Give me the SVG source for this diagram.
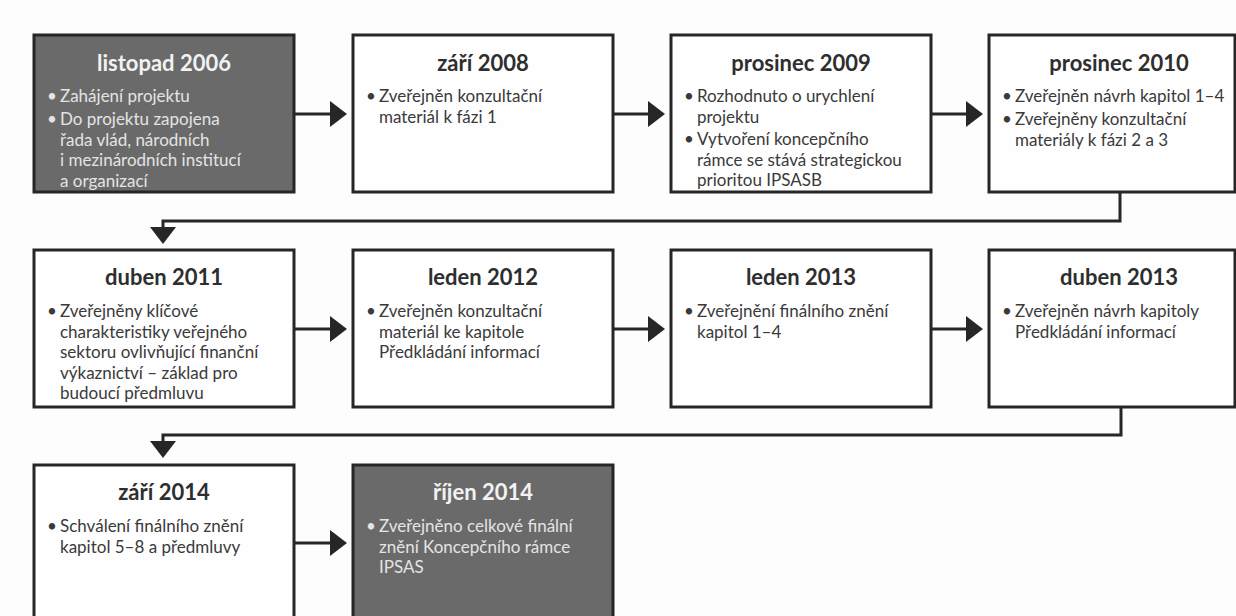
<svg xmlns="http://www.w3.org/2000/svg" width="1236" height="616" viewBox="0 0 1236 616">
  <style>
    .box { fill: #fefefe; stroke: #262626; stroke-width: 3; }
    .box.dark { fill: #6a6a6a; }
    .title { font-family: Lato, "Open Sans", sans-serif; font-weight: bold; font-size: 22px; fill: #2e2e2e; text-anchor: middle; }
    .body { font-family: Lato, "Open Sans", sans-serif; font-size: 17px; fill: #3a3a3a; }
    .dark-node .title { fill: #f2f2f2; }
    .dark-node .body { fill: #e4e4e4; }
    .conn { fill: none; stroke: #262626; stroke-width: 3; marker-end: url(#head); }
  </style>
  <defs>
    <marker id="head" markerUnits="userSpaceOnUse" viewBox="0 0 17 26" refX="0" refY="13" markerWidth="17" markerHeight="26" orient="auto">
      <path d="M0,0 L17,13 L0,26 Z" fill="#262626"/>
    </marker>
  </defs>
  <rect width="1236" height="616" fill="#fdfdfd"/>

  <!-- connectors -->
  <g id="connectors">
    <path class="conn" d="M295,114 H330"/>
    <path class="conn" d="M613,114 H648"/>
    <path class="conn" d="M931,114 H966"/>
    <path class="conn" d="M1120,193 V221 H163 V227"/>
    <path class="conn" d="M295,329 H330"/>
    <path class="conn" d="M613,329 H648"/>
    <path class="conn" d="M931,329 H966"/>
    <path class="conn" d="M1121,408 V435 H163 V441"/>
    <path class="conn" d="M295,543 H330"/>
  </g>

  <!-- row 1 -->
  <g id="n-2006-11" class="dark-node">
    <rect class="box dark" x="34" y="35" width="260" height="157"/>
    <text class="title" x="164" y="71">listopad 2006</text>
    <text class="body"><tspan x="47" y="102">•</tspan><tspan x="60" y="102">Zahájení projektu</tspan></text>
    <text class="body"><tspan x="47" y="125">•</tspan><tspan x="60" y="125">Do projektu zapojena</tspan><tspan x="60" y="145.5">řada vlád, národních</tspan><tspan x="60" y="166">i mezinárodních institucí</tspan><tspan x="60" y="186.5">a organizací</tspan></text>
  </g>
  <g id="n-2008-09">
    <rect class="box" x="353" y="35" width="260" height="157"/>
    <text class="title" x="483" y="71">září 2008</text>
    <text class="body"><tspan x="366" y="102">•</tspan><tspan x="379" y="102">Zveřejněn konzultační</tspan><tspan x="379" y="122.5">materiál k fázi 1</tspan></text>
  </g>
  <g id="n-2009-12">
    <rect class="box" x="671" y="35" width="260" height="157"/>
    <text class="title" x="801" y="71">prosinec 2009</text>
    <text class="body"><tspan x="684" y="102">•</tspan><tspan x="697" y="102">Rozhodnuto o urychlení</tspan><tspan x="697" y="122.5">projektu</tspan></text>
    <text class="body"><tspan x="684" y="145">•</tspan><tspan x="697" y="145">Vytvoření koncepčního</tspan><tspan x="697" y="165.5">rámce se stává strategickou</tspan><tspan x="697" y="186">prioritou IPSASB</tspan></text>
  </g>
  <g id="n-2010-12">
    <rect class="box" x="989" y="35" width="246" height="157"/>
    <text class="title" x="1119" y="71">prosinec 2010</text>
    <text class="body"><tspan x="1002" y="102">•</tspan><tspan x="1015" y="102">Zveřejněn návrh kapitol 1–4</tspan></text>
    <text class="body"><tspan x="1002" y="125">•</tspan><tspan x="1015" y="125">Zveřejněny konzultační</tspan><tspan x="1015" y="145.5">materiály k fázi 2 a 3</tspan></text>
  </g>

  <!-- row 2 -->
  <g id="n-2011-04">
    <rect class="box" x="34" y="250" width="260" height="157"/>
    <text class="title" x="164" y="285">duben 2011</text>
    <text class="body"><tspan x="47" y="317">•</tspan><tspan x="60" y="317">Zveřejněny klíčové</tspan><tspan x="60" y="337.5">charakteristiky veřejného</tspan><tspan x="60" y="358">sektoru ovlivňující finanční</tspan><tspan x="60" y="378.5">výkaznictví – základ pro</tspan><tspan x="60" y="399">budoucí předmluvu</tspan></text>
  </g>
  <g id="n-2012-01">
    <rect class="box" x="353" y="250" width="260" height="157"/>
    <text class="title" x="483" y="285">leden 2012</text>
    <text class="body"><tspan x="366" y="317">•</tspan><tspan x="379" y="317">Zveřejněn konzultační</tspan><tspan x="379" y="337.5">materiál ke kapitole</tspan><tspan x="379" y="358">Předkládání informací</tspan></text>
  </g>
  <g id="n-2013-01">
    <rect class="box" x="671" y="250" width="260" height="157"/>
    <text class="title" x="801" y="285">leden 2013</text>
    <text class="body"><tspan x="684" y="317">•</tspan><tspan x="697" y="317">Zveřejnění finálního znění</tspan><tspan x="697" y="337.5">kapitol 1–4</tspan></text>
  </g>
  <g id="n-2013-04">
    <rect class="box" x="989" y="250" width="246" height="157"/>
    <text class="title" x="1119" y="285">duben 2013</text>
    <text class="body"><tspan x="1002" y="317">•</tspan><tspan x="1015" y="317">Zveřejněn návrh kapitoly</tspan><tspan x="1015" y="337.5">Předkládání informací</tspan></text>
  </g>

  <!-- row 3 -->
  <g id="n-2014-09">
    <rect class="box" x="34" y="465" width="260" height="157"/>
    <text class="title" x="164" y="500">září 2014</text>
    <text class="body"><tspan x="47" y="532">•</tspan><tspan x="60" y="532">Schválení finálního znění</tspan><tspan x="60" y="552.5">kapitol 5–8 a předmluvy</tspan></text>
  </g>
  <g id="n-2014-10" class="dark-node">
    <rect class="box dark" x="353" y="465" width="260" height="157"/>
    <text class="title" x="483" y="500">říjen 2014</text>
    <text class="body"><tspan x="366" y="532">•</tspan><tspan x="379" y="532">Zveřejněno celkové finální</tspan><tspan x="379" y="552.5">znění Koncepčního rámce</tspan><tspan x="379" y="573">IPSAS</tspan></text>
  </g>
</svg>
